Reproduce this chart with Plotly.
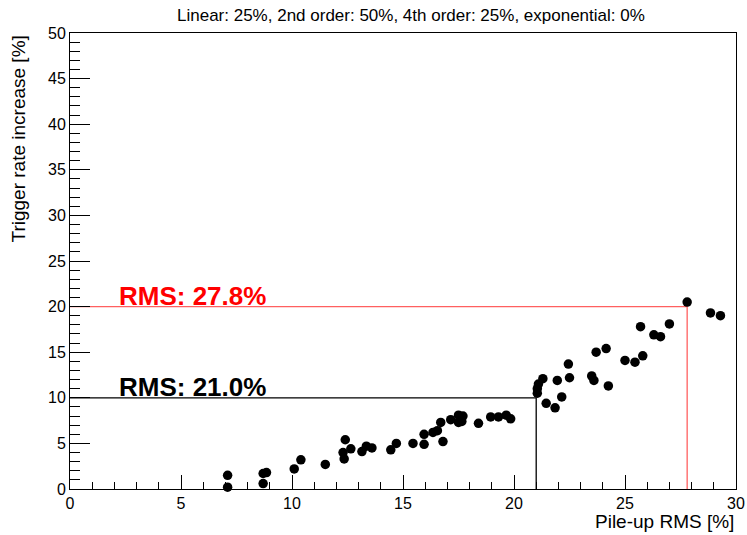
import plotly.graph_objects as go

# Pile-up RMS [%] vs. trigger rate increase [%]
pileup_rms = [7.1, 7.1, 8.7, 8.7, 8.85, 10.1, 10.4, 11.5, 12.3, 12.35, 12.4, 12.65,
              13.15, 13.35, 13.6, 14.45, 14.7, 15.45, 15.95, 15.95, 16.35, 16.55,
              16.7, 16.8, 17.15, 17.5, 17.7, 17.5, 17.65, 18.4, 18.95, 19.3, 19.65,
              19.85, 21.05, 21.05, 21.1, 21.3, 21.45, 21.85, 21.95, 22.15, 22.45,
              22.5, 23.5, 23.6, 23.7, 24.15, 24.25, 25.0, 25.45, 25.7, 25.8, 26.3,
              26.6, 27.0, 27.8, 28.85, 29.3]
rate_increase = [1.5, 0.2, 1.7, 0.6, 1.8, 2.2, 3.2, 2.7, 4.0, 3.3, 5.4, 4.4,
                 4.1, 4.7, 4.5, 4.3, 5.0, 5.0, 6.0, 4.9, 6.2, 6.4,
                 7.3, 5.2, 7.6, 8.1, 8.0, 7.3, 7.4, 7.2, 7.9, 7.9, 8.1,
                 7.7, 10.5, 11.0, 11.5, 12.1, 9.4, 8.9, 11.9, 10.1, 13.7,
                 12.2, 12.4, 11.9, 15.0, 15.4, 11.3, 14.1, 13.9, 17.8, 14.6, 16.9,
                 16.7, 18.1, 20.5, 19.3, 19.0]

# Rate-increase thresholds and the pile-up RMS at which each is reached
thresholds = [10, 20]
threshold_rms = [21.0, 27.8]
threshold_colors = ["black", "#ff6060"]
label_colors = ["black", "#ff0000"]

title_text = "Linear: 25%, 2nd order: 50%, 4th order: 25%, exponential: 0%"
FONT = "Liberation Sans, Arial, Helvetica, sans-serif"

fig = go.Figure()

for thr, rms, col in zip(thresholds, threshold_rms, threshold_colors):
    fig.add_trace(go.Scatter(
        x=[0, rms, rms], y=[thr, thr, 0], mode="lines",
        line=dict(color=col, width=1.3), hoverinfo="skip", showlegend=False,
    ))

fig.add_trace(go.Scatter(
    x=pileup_rms, y=rate_increase, mode="markers",
    marker=dict(color="black", size=9.5, line=dict(width=0)),
    cliponaxis=False, showlegend=False,
))

for thr, rms, col in zip(thresholds, threshold_rms, label_colors):
    fig.add_annotation(
        x=2.1, y=thr, xref="x", yref="y", xanchor="left", yanchor="bottom",
        text=f"<b>RMS: {rms:.1f}%</b>", showarrow=False, yshift=-6,
        font=dict(family=FONT, size=26, color=col),
    )

fig.add_annotation(
    x=0.512, y=1, xref="paper", yref="paper", yshift=18, xanchor="center",
    yanchor="middle", text=title_text, showarrow=False,
    font=dict(family=FONT, size=17, color="black"),
)
fig.add_annotation(
    x=1, y=0, xref="paper", yref="paper", xanchor="right", yanchor="top",
    yshift=-20, text="Pile-up RMS [%]", showarrow=False,
    font=dict(family=FONT, size=19, color="black"),
)
fig.add_annotation(
    x=0, y=1, xref="paper", yref="paper", xanchor="center", yanchor="top",
    xshift=-52, yshift=-1, textangle=-90, text="Trigger rate increase [%]",
    showarrow=False, font=dict(family=FONT, size=19, color="black"),
)

fig.update_xaxes(
    range=[0, 30], dtick=5, ticks="inside", ticklen=14, tickwidth=1,
    tickcolor="black", minor=dict(dtick=1, ticks="inside", ticklen=7,
                                  tickcolor="black"),
    showline=True, linecolor="black", linewidth=1, mirror=True,
    showgrid=False, zeroline=False, automargin=False,
    tickfont=dict(family=FONT, size=16, color="black"),
)
fig.update_yaxes(
    range=[0, 50], dtick=5, ticks="inside", ticklen=20, tickwidth=1,
    tickcolor="black", minor=dict(dtick=1, ticks="inside", ticklen=10,
                                  tickcolor="black"),
    showline=True, linecolor="black", linewidth=1, mirror=True,
    showgrid=False, zeroline=False, automargin=False,
    tickfont=dict(family=FONT, size=16, color="black"),
)

fig.update_layout(
    width=747, height=535, autosize=False,
    margin=dict(l=70, r=11, t=33, b=46),
    paper_bgcolor="white", plot_bgcolor="white",
    font=dict(family=FONT),
)

fig.write_html("out.html")
